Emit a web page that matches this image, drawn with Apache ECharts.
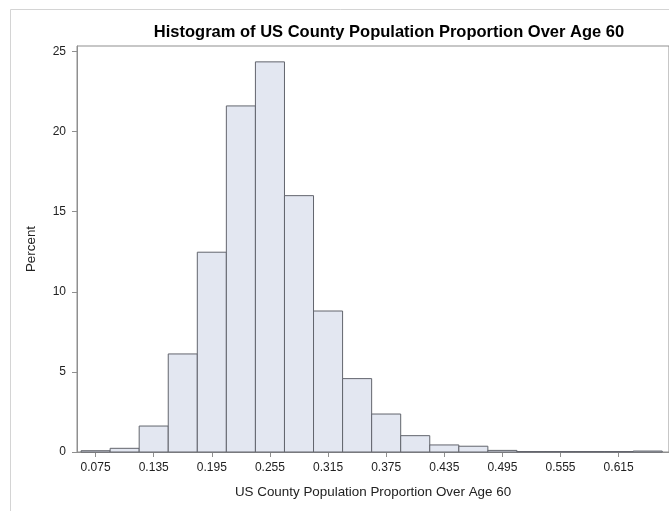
<!DOCTYPE html>
<html>
<head>
<meta charset="utf-8">
<script src="https://cdn.jsdelivr.net/npm/echarts@6/dist/echarts.min.js"></script>
<style>
  html, body { margin: 0; padding: 0; background: #fff; }
  #chart { width: 669px; height: 511px; }
</style>
</head>
<body>
<div id="chart"></div>
<script>
// Histogram bins: midpoints (proportion over age 60) and percent of counties
const binMidpoints = [0.075, 0.105, 0.135, 0.165, 0.195, 0.225, 0.255, 0.285, 0.315, 0.345,
                      0.375, 0.405, 0.435, 0.465, 0.495, 0.525, 0.555, 0.585, 0.615, 0.645];
const binPercents  = [0.08, 0.23, 1.62, 6.12, 12.47, 21.6, 24.35, 16.0, 8.8, 4.58,
                      2.37, 1.02, 0.44, 0.36, 0.1, 0.03, 0.03, 0.03, 0.03, 0.06];
const binWidth = 0.03;

// Axis tick labels
const xTickValues = [0.075, 0.135, 0.195, 0.255, 0.315, 0.375, 0.435, 0.495, 0.555, 0.615];
const yTickValues = [0, 5, 10, 15, 20, 25];

const titleText = 'Histogram of US County Population Proportion Over Age 60';
const xAxisTitle = 'US County Population Proportion Over Age 60';
const yAxisTitle = 'Percent';

const FONT = '"Liberation Sans", Arial, sans-serif';
const AXIS_GRAY = '#8f8f8f';
const BAR_FILL = '#e3e7f1';
const BAR_EDGE = '#62656d';

const chart = echarts.init(document.getElementById('chart'), null, { renderer: 'canvas' });

chart.setOption({
  animation: false,
  backgroundColor: '#ffffff',
  graphic: [{
    type: 'rect',
    shape: { x: 10.5, y: 9.5, width: 700, height: 600 },
    style: { fill: 'none', stroke: '#d4d4d4', lineWidth: 1 },
    silent: true,
    z: -10
  }],
  title: {
    text: titleText,
    left: 384,
    top: 19,
    textAlign: 'center',
    textStyle: { fontFamily: FONT, fontSize: 16.5, fontWeight: 'bold', color: '#000' }
  },
  grid: {
    left: 77,
    top: 46,
    right: -2,
    bottom: 59,
    show: true,
    borderColor: AXIS_GRAY,
    borderWidth: 1,
    backgroundColor: 'transparent'
  },
  xAxis: {
    type: 'value',
    min: 0.0558,
    max: 0.667,
    name: xAxisTitle,
    nameLocation: 'middle',
    nameGap: 34,
    nameTextStyle: { fontFamily: FONT, fontSize: 13.4, color: '#222' },
    axisLine: { show: true, lineStyle: { color: AXIS_GRAY, width: 1 } },
    axisTick: { show: true, length: 5, customValues: xTickValues, lineStyle: { color: AXIS_GRAY } },
    axisLabel: {
      customValues: xTickValues,
      formatter: v => v.toFixed(3),
      fontFamily: FONT, fontSize: 12, color: '#222', margin: 10
    },
    splitLine: { show: false }
  },
  yAxis: {
    type: 'value',
    min: 0,
    max: 25.34,
    name: yAxisTitle,
    nameLocation: 'middle',
    nameGap: 39,
    nameRotate: 90,
    nameTextStyle: { fontFamily: FONT, fontSize: 13.4, color: '#222' },
    axisLine: { show: true, lineStyle: { color: AXIS_GRAY, width: 1 } },
    axisTick: { show: true, length: 5, customValues: yTickValues, lineStyle: { color: AXIS_GRAY } },
    axisLabel: {
      customValues: yTickValues,
      fontFamily: FONT, fontSize: 12, color: '#222', margin: 11
    },
    splitLine: { show: false }
  },
  series: [{
    type: 'custom',
    data: binMidpoints.map((m, i) => [m, binPercents[i]]),
    renderItem: function (params, api) {
      const mid = api.value(0);
      const pct = api.value(1);
      const bottomLeft = api.coord([mid - binWidth / 2, 0]);
      const topRight = api.coord([mid + binWidth / 2, pct]);
      return {
        type: 'rect',
        shape: {
          x: bottomLeft[0],
          y: topRight[1],
          width: topRight[0] - bottomLeft[0],
          height: bottomLeft[1] - topRight[1]
        },
        style: { fill: BAR_FILL, stroke: BAR_EDGE, lineWidth: 1 }
      };
    }
  }]
});
</script>
</body>
</html>
